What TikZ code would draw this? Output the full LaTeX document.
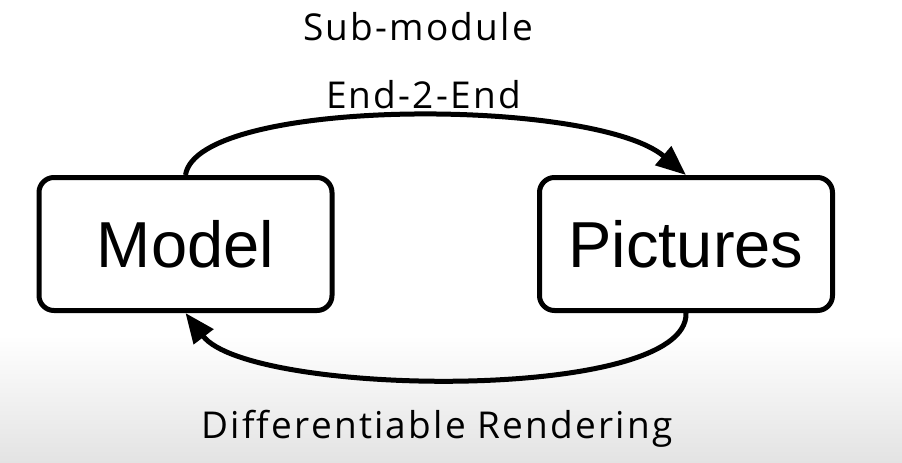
\documentclass[tikz,border=0pt]{standalone}
\usepackage{fontspec}
\setmainfont{Liberation Sans}
\newfontfamily\labelfont[Ligatures=NoCommon, LetterSpace=6]{Open Sans}
\usetikzlibrary{arrows.meta}

\begin{document}
\begin{tikzpicture}[
		x=1pt,
		y=-1pt,
		box/.style={draw, line width=5pt, rounded corners=15pt, minimum width=293pt, minimum height=133pt, font=\fontsize{65}{70}\selectfont},
		flow/.style={line width=5pt, -{Triangle[length=30pt, width=24pt]}},
		desc/.style={anchor=base, font=\labelfont\fontsize{37}{40}\selectfont}
		]

	% Frame and shaded floor
	\useasboundingbox (0, 0) rectangle (902, 463);
	\fill[white] (0, 0) rectangle (902, 463);
	\shade[top color=white, bottom color=black!11] (0, 335) rectangle (902, 463);

	% Boxes
	\node[box] (model) at (185.5, 244) {Model};
	\node[box] (pictures) at (686, 244) {Pictures};

	% Labels
	\node[desc] (submodule) at (418, 40) {Sub-module};
	\node[desc] (endtoend) at (423.5, 108) {End-2-End};
	\node[desc] (rendering) at (437, 438) {Differentiable Rendering};

	% Arrows
	\draw[flow] (model.north) .. controls +(12, -78) and +(-92, -78) .. (pictures.north);
	\draw[flow] (pictures.south) .. controls +(3, 90) and +(64, 84) .. (model.south);

\end{tikzpicture}
\end{document}
